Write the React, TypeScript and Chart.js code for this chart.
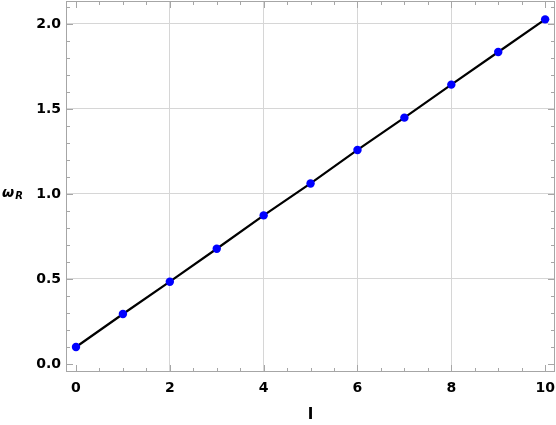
import React, { useEffect, useRef } from "react";
import { Chart, registerables } from "chart.js";

Chart.register(...registerables);

const xValues = [0, 1, 2, 3, 4, 5, 6, 7, 8, 9, 10];
const omegaR = [0.100, 0.294, 0.484, 0.678, 0.874, 1.062, 1.259, 1.449, 1.643, 1.835, 2.027];
const xMajorTicks = [0, 2, 4, 6, 8, 10];
const yMajorTicks = [0, 0.5, 1.0, 1.5, 2.0];
const xRange = [-0.213, 10.21];
const yRange = [-0.047, 2.135];

const FONT = "'DejaVu Sans', sans-serif";

const isMajor = (v: number, majors: number[]) => majors.some((m) => Math.abs(m - v) < 1e-6);

const framePlugin = {
  id: "frameTicks",
  afterDraw(chart: any) {
    const { ctx, chartArea: a, scales } = chart;
    const xs = scales.x;
    const ys = scales.y;
    ctx.save();
    ctx.strokeStyle = "#a6a6a6";
    ctx.lineWidth = 1;
    ctx.strokeRect(a.left + 0.5, a.top + 0.5, a.right - a.left - 1, a.bottom - a.top - 1);
    ctx.beginPath();
    xs.ticks.forEach((t: any) => {
      const px = Math.round(xs.getPixelForValue(t.value)) + 0.5;
      const len = isMajor(t.value, xMajorTicks) ? 7 : 4;
      ctx.moveTo(px, a.bottom);
      ctx.lineTo(px, a.bottom - len);
      ctx.moveTo(px, a.top);
      ctx.lineTo(px, a.top + len);
    });
    ys.ticks.forEach((t: any) => {
      const py = Math.round(ys.getPixelForValue(t.value)) + 0.5;
      const len = isMajor(t.value, yMajorTicks) ? 7 : 4;
      ctx.moveTo(a.left, py);
      ctx.lineTo(a.left + len, py);
      ctx.moveTo(a.right, py);
      ctx.lineTo(a.right - len, py);
    });
    ctx.stroke();

    // axis titles
    ctx.fillStyle = "#000";
    ctx.textBaseline = "alphabetic";
    ctx.textAlign = "left";
    ctx.font = `italic bold 14px ${FONT}`;
    ctx.fillText("ω", 2, 197);
    const w = ctx.measureText("ω").width;
    ctx.font = `italic bold 10px ${FONT}`;
    ctx.fillText("R", 2 + w + 1, 198.5);
    ctx.textAlign = "center";
    ctx.font = `bold 15px ${FONT}`;
    ctx.fillText("I", (a.left + a.right) / 2, 419);
    ctx.restore();
  },
};

export default function App() {
  const ref = useRef<HTMLCanvasElement>(null);
  useEffect(() => {
    if (!ref.current) return;
    const chart = new Chart(ref.current, {
      type: "line",
      data: {
        datasets: [
          {
            data: xValues.map((x, i) => ({ x, y: omegaR[i] })),
            borderColor: "#000000",
            borderWidth: 2.2,
            pointBackgroundColor: "#0000ff",
            pointBorderColor: "#0000ff",
            pointBorderWidth: 0,
            pointRadius: 4.2,
            tension: 0,
            clip: false,
          },
        ],
      },
      options: {
        responsive: false,
        animation: false,
        layout: { autoPadding: false, padding: { top: 1, right: 1, left: 0, bottom: 0 } },
        plugins: { legend: { display: false }, tooltip: { enabled: false } },
        scales: {
          x: {
            type: "linear",
            min: xRange[0],
            max: xRange[1],
            afterBuildTicks: (s: any) => {
              const t = [];
              for (let k = 0; k <= 20; k++) t.push({ value: k * 0.5 });
              s.ticks = t;
            },
            afterFit: (s: any) => {
              s.height = 53;
              s.paddingLeft = 0;
              s.paddingRight = 0;
              s.paddingTop = 0;
              s.paddingBottom = 0;
            },
            border: { display: false },
            grid: {
              drawTicks: false,
              color: (c: any) =>
                c.tick && isMajor(c.tick.value, xMajorTicks) && c.tick.value > 0 && c.tick.value < 10
                  ? "#d6d6d6"
                  : "rgba(0,0,0,0)",
              lineWidth: 1,
            },
            ticks: {
              autoSkip: false,
              maxRotation: 0,
              padding: 8,
              color: "#000",
              font: { family: FONT, weight: "bold", size: 14 },
              callback: (v: any) => (isMajor(Number(v), xMajorTicks) ? String(Math.round(Number(v))) : ""),
            },
          },
          y: {
            type: "linear",
            min: yRange[0],
            max: yRange[1],
            afterBuildTicks: (s: any) => {
              const t = [];
              for (let k = 0; k <= 21; k++) t.push({ value: k / 10 });
              s.ticks = t;
            },
            afterFit: (s: any) => {
              s.width = 66;
              s.paddingLeft = 0;
              s.paddingRight = 0;
              s.paddingTop = 0;
              s.paddingBottom = 0;
            },
            border: { display: false },
            grid: {
              drawTicks: false,
              color: (c: any) =>
                c.tick && isMajor(c.tick.value, yMajorTicks) && c.tick.value > 0
                  ? "#d6d6d6"
                  : "rgba(0,0,0,0)",
              lineWidth: 1,
            },
            ticks: {
              autoSkip: false,
              padding: 5,
              color: "#000",
              font: { family: FONT, weight: "bold", size: 14 },
              callback: (v: any) => (isMajor(Number(v), yMajorTicks) ? Number(v).toFixed(1) : ""),
            },
          },
        },
      },
      plugins: [framePlugin],
    } as any);
    return () => chart.destroy();
  }, []);
  return (
    <div style={{ position: "fixed", left: 0, top: 0, width: 556, height: 425, background: "#fff" }}>
      <canvas ref={ref} width={556} height={425} style={{ display: "block" }} />
    </div>
  );
}
